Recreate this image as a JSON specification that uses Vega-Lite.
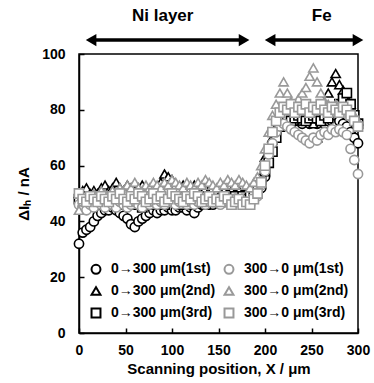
{
  "$schema": "https://vega.github.io/schema/vega-lite/v6.json",
  "width": 279,
  "height": 279,
  "autosize": {"type": "none"},
  "padding": {"left": 79, "top": 54, "right": 16, "bottom": 50},
  "background": "white",
  "config": {
    "font": "Liberation Sans",
    "view": {"stroke": "black", "strokeWidth": 1.5},
    "axis": {
      "grid": false,
      "domainColor": "black",
      "domainWidth": 1.5,
      "tickColor": "black",
      "tickWidth": 1.5,
      "tickSize": -5,
      "labelFlush": false,
      "labelFont": "Liberation Sans",
      "labelFontWeight": "bold",
      "labelFontSize": 14,
      "labelColor": "black",
      "titleFont": "Liberation Sans",
      "titleFontWeight": "bold",
      "titleFontSize": 15,
      "titleColor": "black"
    }
  },
  "layer": [
    {
      "data": {"values": [
        {"s":"b1","x":0,"y":32},{"s":"b1","x":4,"y":36},{"s":"b1","x":8,"y":37},{"s":"b1","x":12,"y":38},{"s":"b1","x":16,"y":40},{"s":"b1","x":20,"y":42},{"s":"b1","x":24,"y":43},{"s":"b1","x":28,"y":44},{"s":"b1","x":32,"y":44},{"s":"b1","x":36,"y":45},{"s":"b1","x":40,"y":44},{"s":"b1","x":44,"y":43},{"s":"b1","x":48,"y":42},{"s":"b1","x":52,"y":41},{"s":"b1","x":56,"y":39},{"s":"b1","x":60,"y":38},{"s":"b1","x":64,"y":40},{"s":"b1","x":68,"y":41},{"s":"b1","x":72,"y":42},{"s":"b1","x":76,"y":43},{"s":"b1","x":80,"y":44},{"s":"b1","x":84,"y":43},{"s":"b1","x":88,"y":44},{"s":"b1","x":92,"y":44},{"s":"b1","x":96,"y":45},{"s":"b1","x":100,"y":44},{"s":"b1","x":104,"y":44},{"s":"b1","x":108,"y":45},{"s":"b1","x":112,"y":45},{"s":"b1","x":116,"y":44},{"s":"b1","x":120,"y":45},{"s":"b1","x":124,"y":43},{"s":"b1","x":128,"y":45},{"s":"b1","x":132,"y":46},{"s":"b1","x":136,"y":46},{"s":"b1","x":140,"y":47},{"s":"b1","x":144,"y":46},{"s":"b1","x":148,"y":47},{"s":"b1","x":152,"y":47},{"s":"b1","x":156,"y":47},{"s":"b1","x":160,"y":48},{"s":"b1","x":164,"y":47},{"s":"b1","x":168,"y":48},{"s":"b1","x":172,"y":48},{"s":"b1","x":176,"y":48},{"s":"b1","x":180,"y":49},{"s":"b1","x":184,"y":49},{"s":"b1","x":188,"y":49},{"s":"b1","x":192,"y":50},{"s":"b1","x":196,"y":52},{"s":"b1","x":200,"y":56},{"s":"b1","x":204,"y":62},{"s":"b1","x":208,"y":68},{"s":"b1","x":212,"y":72},{"s":"b1","x":216,"y":75},{"s":"b1","x":220,"y":76},{"s":"b1","x":224,"y":76},{"s":"b1","x":228,"y":75},{"s":"b1","x":232,"y":76},{"s":"b1","x":236,"y":76},{"s":"b1","x":240,"y":75},{"s":"b1","x":244,"y":76},{"s":"b1","x":248,"y":75},{"s":"b1","x":252,"y":76},{"s":"b1","x":256,"y":75},{"s":"b1","x":260,"y":76},{"s":"b1","x":264,"y":75},{"s":"b1","x":268,"y":76},{"s":"b1","x":272,"y":76},{"s":"b1","x":276,"y":75},{"s":"b1","x":280,"y":76},{"s":"b1","x":284,"y":75},{"s":"b1","x":288,"y":74},{"s":"b1","x":292,"y":72},{"s":"b1","x":296,"y":70},{"s":"b1","x":300,"y":68},
        {"s":"b2","x":0,"y":50},{"s":"b2","x":4,"y":51},{"s":"b2","x":8,"y":52},{"s":"b2","x":12,"y":50},{"s":"b2","x":16,"y":51},{"s":"b2","x":20,"y":50},{"s":"b2","x":24,"y":52},{"s":"b2","x":28,"y":53},{"s":"b2","x":32,"y":51},{"s":"b2","x":36,"y":52},{"s":"b2","x":40,"y":54},{"s":"b2","x":44,"y":52},{"s":"b2","x":48,"y":51},{"s":"b2","x":52,"y":53},{"s":"b2","x":56,"y":52},{"s":"b2","x":60,"y":51},{"s":"b2","x":64,"y":52},{"s":"b2","x":68,"y":53},{"s":"b2","x":72,"y":52},{"s":"b2","x":76,"y":51},{"s":"b2","x":80,"y":53},{"s":"b2","x":84,"y":52},{"s":"b2","x":88,"y":54},{"s":"b2","x":92,"y":57},{"s":"b2","x":96,"y":56},{"s":"b2","x":100,"y":55},{"s":"b2","x":104,"y":53},{"s":"b2","x":108,"y":52},{"s":"b2","x":112,"y":53},{"s":"b2","x":116,"y":51},{"s":"b2","x":120,"y":52},{"s":"b2","x":124,"y":53},{"s":"b2","x":128,"y":52},{"s":"b2","x":132,"y":51},{"s":"b2","x":136,"y":52},{"s":"b2","x":140,"y":51},{"s":"b2","x":144,"y":52},{"s":"b2","x":148,"y":51},{"s":"b2","x":152,"y":50},{"s":"b2","x":156,"y":51},{"s":"b2","x":160,"y":50},{"s":"b2","x":164,"y":51},{"s":"b2","x":168,"y":50},{"s":"b2","x":172,"y":51},{"s":"b2","x":176,"y":50},{"s":"b2","x":180,"y":51},{"s":"b2","x":184,"y":50},{"s":"b2","x":188,"y":51},{"s":"b2","x":192,"y":52},{"s":"b2","x":196,"y":56},{"s":"b2","x":200,"y":63},{"s":"b2","x":204,"y":66},{"s":"b2","x":208,"y":70},{"s":"b2","x":212,"y":74},{"s":"b2","x":216,"y":76},{"s":"b2","x":220,"y":77},{"s":"b2","x":224,"y":76},{"s":"b2","x":228,"y":77},{"s":"b2","x":232,"y":76},{"s":"b2","x":236,"y":77},{"s":"b2","x":240,"y":76},{"s":"b2","x":244,"y":77},{"s":"b2","x":248,"y":76},{"s":"b2","x":252,"y":75},{"s":"b2","x":256,"y":70},{"s":"b2","x":260,"y":77},{"s":"b2","x":264,"y":80},{"s":"b2","x":268,"y":86},{"s":"b2","x":272,"y":90},{"s":"b2","x":276,"y":93},{"s":"b2","x":280,"y":89},{"s":"b2","x":284,"y":87},{"s":"b2","x":288,"y":84},{"s":"b2","x":292,"y":82},{"s":"b2","x":296,"y":78},{"s":"b2","x":300,"y":76},
        {"s":"b3","x":0,"y":48},{"s":"b3","x":4,"y":47},{"s":"b3","x":8,"y":46},{"s":"b3","x":12,"y":47},{"s":"b3","x":16,"y":46},{"s":"b3","x":20,"y":48},{"s":"b3","x":24,"y":47},{"s":"b3","x":28,"y":46},{"s":"b3","x":32,"y":47},{"s":"b3","x":36,"y":48},{"s":"b3","x":40,"y":46},{"s":"b3","x":44,"y":47},{"s":"b3","x":48,"y":46},{"s":"b3","x":52,"y":47},{"s":"b3","x":56,"y":48},{"s":"b3","x":60,"y":46},{"s":"b3","x":64,"y":47},{"s":"b3","x":68,"y":45},{"s":"b3","x":72,"y":46},{"s":"b3","x":76,"y":47},{"s":"b3","x":80,"y":46},{"s":"b3","x":84,"y":47},{"s":"b3","x":88,"y":48},{"s":"b3","x":92,"y":46},{"s":"b3","x":96,"y":47},{"s":"b3","x":100,"y":48},{"s":"b3","x":104,"y":47},{"s":"b3","x":108,"y":46},{"s":"b3","x":112,"y":48},{"s":"b3","x":116,"y":47},{"s":"b3","x":120,"y":46},{"s":"b3","x":124,"y":47},{"s":"b3","x":128,"y":48},{"s":"b3","x":132,"y":47},{"s":"b3","x":136,"y":46},{"s":"b3","x":140,"y":48},{"s":"b3","x":144,"y":47},{"s":"b3","x":148,"y":48},{"s":"b3","x":152,"y":47},{"s":"b3","x":156,"y":49},{"s":"b3","x":160,"y":48},{"s":"b3","x":164,"y":47},{"s":"b3","x":168,"y":49},{"s":"b3","x":172,"y":48},{"s":"b3","x":176,"y":49},{"s":"b3","x":180,"y":48},{"s":"b3","x":184,"y":50},{"s":"b3","x":188,"y":51},{"s":"b3","x":192,"y":53},{"s":"b3","x":196,"y":55},{"s":"b3","x":200,"y":58},{"s":"b3","x":204,"y":61},{"s":"b3","x":208,"y":65},{"s":"b3","x":212,"y":70},{"s":"b3","x":216,"y":74},{"s":"b3","x":220,"y":76},{"s":"b3","x":224,"y":77},{"s":"b3","x":228,"y":76},{"s":"b3","x":232,"y":77},{"s":"b3","x":236,"y":78},{"s":"b3","x":240,"y":77},{"s":"b3","x":244,"y":76},{"s":"b3","x":248,"y":77},{"s":"b3","x":252,"y":78},{"s":"b3","x":256,"y":77},{"s":"b3","x":260,"y":76},{"s":"b3","x":264,"y":78},{"s":"b3","x":268,"y":77},{"s":"b3","x":272,"y":79},{"s":"b3","x":276,"y":80},{"s":"b3","x":280,"y":82},{"s":"b3","x":284,"y":84},{"s":"b3","x":288,"y":86},{"s":"b3","x":292,"y":82},{"s":"b3","x":296,"y":78},{"s":"b3","x":300,"y":75},
        {"s":"g1","x":0,"y":46},{"s":"g1","x":4,"y":45},{"s":"g1","x":8,"y":44},{"s":"g1","x":12,"y":46},{"s":"g1","x":16,"y":45},{"s":"g1","x":20,"y":47},{"s":"g1","x":24,"y":46},{"s":"g1","x":28,"y":45},{"s":"g1","x":32,"y":47},{"s":"g1","x":36,"y":46},{"s":"g1","x":40,"y":45},{"s":"g1","x":44,"y":47},{"s":"g1","x":48,"y":46},{"s":"g1","x":52,"y":45},{"s":"g1","x":56,"y":46},{"s":"g1","x":60,"y":47},{"s":"g1","x":64,"y":46},{"s":"g1","x":68,"y":45},{"s":"g1","x":72,"y":47},{"s":"g1","x":76,"y":46},{"s":"g1","x":80,"y":47},{"s":"g1","x":84,"y":46},{"s":"g1","x":88,"y":47},{"s":"g1","x":92,"y":46},{"s":"g1","x":96,"y":48},{"s":"g1","x":100,"y":47},{"s":"g1","x":104,"y":46},{"s":"g1","x":108,"y":47},{"s":"g1","x":112,"y":48},{"s":"g1","x":116,"y":46},{"s":"g1","x":120,"y":47},{"s":"g1","x":124,"y":46},{"s":"g1","x":128,"y":47},{"s":"g1","x":132,"y":48},{"s":"g1","x":136,"y":46},{"s":"g1","x":140,"y":47},{"s":"g1","x":144,"y":48},{"s":"g1","x":148,"y":47},{"s":"g1","x":152,"y":46},{"s":"g1","x":156,"y":48},{"s":"g1","x":160,"y":47},{"s":"g1","x":164,"y":46},{"s":"g1","x":168,"y":48},{"s":"g1","x":172,"y":47},{"s":"g1","x":176,"y":46},{"s":"g1","x":180,"y":47},{"s":"g1","x":184,"y":46},{"s":"g1","x":188,"y":48},{"s":"g1","x":192,"y":49},{"s":"g1","x":196,"y":53},{"s":"g1","x":200,"y":58},{"s":"g1","x":204,"y":64},{"s":"g1","x":208,"y":68},{"s":"g1","x":212,"y":72},{"s":"g1","x":216,"y":74},{"s":"g1","x":220,"y":75},{"s":"g1","x":224,"y":74},{"s":"g1","x":228,"y":73},{"s":"g1","x":232,"y":72},{"s":"g1","x":236,"y":71},{"s":"g1","x":240,"y":70},{"s":"g1","x":244,"y":69},{"s":"g1","x":248,"y":68},{"s":"g1","x":252,"y":70},{"s":"g1","x":256,"y":69},{"s":"g1","x":260,"y":71},{"s":"g1","x":264,"y":72},{"s":"g1","x":268,"y":71},{"s":"g1","x":272,"y":73},{"s":"g1","x":276,"y":72},{"s":"g1","x":280,"y":73},{"s":"g1","x":284,"y":72},{"s":"g1","x":288,"y":71},{"s":"g1","x":292,"y":66},{"s":"g1","x":296,"y":62},{"s":"g1","x":300,"y":57},
        {"s":"g2","x":0,"y":44},{"s":"g2","x":4,"y":47},{"s":"g2","x":8,"y":49},{"s":"g2","x":12,"y":48},{"s":"g2","x":16,"y":50},{"s":"g2","x":20,"y":49},{"s":"g2","x":24,"y":51},{"s":"g2","x":28,"y":50},{"s":"g2","x":32,"y":49},{"s":"g2","x":36,"y":51},{"s":"g2","x":40,"y":50},{"s":"g2","x":44,"y":52},{"s":"g2","x":48,"y":51},{"s":"g2","x":52,"y":53},{"s":"g2","x":56,"y":52},{"s":"g2","x":60,"y":54},{"s":"g2","x":64,"y":52},{"s":"g2","x":68,"y":51},{"s":"g2","x":72,"y":53},{"s":"g2","x":76,"y":52},{"s":"g2","x":80,"y":54},{"s":"g2","x":84,"y":53},{"s":"g2","x":88,"y":52},{"s":"g2","x":92,"y":54},{"s":"g2","x":96,"y":53},{"s":"g2","x":100,"y":55},{"s":"g2","x":104,"y":54},{"s":"g2","x":108,"y":53},{"s":"g2","x":112,"y":52},{"s":"g2","x":116,"y":54},{"s":"g2","x":120,"y":53},{"s":"g2","x":124,"y":52},{"s":"g2","x":128,"y":54},{"s":"g2","x":132,"y":53},{"s":"g2","x":136,"y":55},{"s":"g2","x":140,"y":54},{"s":"g2","x":144,"y":53},{"s":"g2","x":148,"y":52},{"s":"g2","x":152,"y":54},{"s":"g2","x":156,"y":53},{"s":"g2","x":160,"y":55},{"s":"g2","x":164,"y":54},{"s":"g2","x":168,"y":53},{"s":"g2","x":172,"y":55},{"s":"g2","x":176,"y":54},{"s":"g2","x":180,"y":53},{"s":"g2","x":184,"y":52},{"s":"g2","x":188,"y":54},{"s":"g2","x":192,"y":56},{"s":"g2","x":196,"y":60},{"s":"g2","x":200,"y":66},{"s":"g2","x":204,"y":72},{"s":"g2","x":208,"y":78},{"s":"g2","x":212,"y":82},{"s":"g2","x":216,"y":86},{"s":"g2","x":220,"y":90},{"s":"g2","x":224,"y":86},{"s":"g2","x":228,"y":83},{"s":"g2","x":232,"y":82},{"s":"g2","x":236,"y":84},{"s":"g2","x":240,"y":86},{"s":"g2","x":244,"y":88},{"s":"g2","x":248,"y":92},{"s":"g2","x":252,"y":95},{"s":"g2","x":256,"y":90},{"s":"g2","x":260,"y":86},{"s":"g2","x":264,"y":83},{"s":"g2","x":268,"y":82},{"s":"g2","x":272,"y":81},{"s":"g2","x":276,"y":82},{"s":"g2","x":280,"y":80},{"s":"g2","x":284,"y":81},{"s":"g2","x":288,"y":80},{"s":"g2","x":292,"y":79},{"s":"g2","x":296,"y":78},{"s":"g2","x":300,"y":76},
        {"s":"g3","x":0,"y":50},{"s":"g3","x":4,"y":48},{"s":"g3","x":8,"y":47},{"s":"g3","x":12,"y":49},{"s":"g3","x":16,"y":48},{"s":"g3","x":20,"y":47},{"s":"g3","x":24,"y":49},{"s":"g3","x":28,"y":48},{"s":"g3","x":32,"y":47},{"s":"g3","x":36,"y":49},{"s":"g3","x":40,"y":48},{"s":"g3","x":44,"y":50},{"s":"g3","x":48,"y":48},{"s":"g3","x":52,"y":47},{"s":"g3","x":56,"y":49},{"s":"g3","x":60,"y":48},{"s":"g3","x":64,"y":50},{"s":"g3","x":68,"y":49},{"s":"g3","x":72,"y":47},{"s":"g3","x":76,"y":48},{"s":"g3","x":80,"y":50},{"s":"g3","x":84,"y":48},{"s":"g3","x":88,"y":49},{"s":"g3","x":92,"y":47},{"s":"g3","x":96,"y":48},{"s":"g3","x":100,"y":50},{"s":"g3","x":104,"y":49},{"s":"g3","x":108,"y":48},{"s":"g3","x":112,"y":47},{"s":"g3","x":116,"y":49},{"s":"g3","x":120,"y":48},{"s":"g3","x":124,"y":50},{"s":"g3","x":128,"y":49},{"s":"g3","x":132,"y":47},{"s":"g3","x":136,"y":48},{"s":"g3","x":140,"y":49},{"s":"g3","x":144,"y":47},{"s":"g3","x":148,"y":48},{"s":"g3","x":152,"y":47},{"s":"g3","x":156,"y":49},{"s":"g3","x":160,"y":48},{"s":"g3","x":164,"y":46},{"s":"g3","x":168,"y":47},{"s":"g3","x":172,"y":48},{"s":"g3","x":176,"y":46},{"s":"g3","x":180,"y":47},{"s":"g3","x":184,"y":46},{"s":"g3","x":188,"y":48},{"s":"g3","x":192,"y":50},{"s":"g3","x":196,"y":54},{"s":"g3","x":200,"y":60},{"s":"g3","x":204,"y":66},{"s":"g3","x":208,"y":72},{"s":"g3","x":212,"y":76},{"s":"g3","x":216,"y":79},{"s":"g3","x":220,"y":81},{"s":"g3","x":224,"y":80},{"s":"g3","x":228,"y":82},{"s":"g3","x":232,"y":79},{"s":"g3","x":236,"y":81},{"s":"g3","x":240,"y":80},{"s":"g3","x":244,"y":82},{"s":"g3","x":248,"y":79},{"s":"g3","x":252,"y":81},{"s":"g3","x":256,"y":80},{"s":"g3","x":260,"y":82},{"s":"g3","x":264,"y":80},{"s":"g3","x":268,"y":79},{"s":"g3","x":272,"y":81},{"s":"g3","x":276,"y":80},{"s":"g3","x":280,"y":79},{"s":"g3","x":284,"y":81},{"s":"g3","x":288,"y":80},{"s":"g3","x":292,"y":78},{"s":"g3","x":296,"y":76},{"s":"g3","x":300,"y":74}
      ]},
      "mark": {"type": "point", "fill": "white", "fillOpacity": 1, "size": 85, "strokeWidth": 1.6, "opacity": 1},
      "encoding": {
        "x": {"field": "x", "type": "quantitative", "scale": {"domain": [0, 300], "nice": false},
              "axis": {"values": [0, 50, 100, 150, 200, 250, 300], "labelPadding": 15, "titlePadding": 4, "title": "Scanning position, X / μm"}},
        "y": {"field": "y", "type": "quantitative", "scale": {"domain": [0, 100], "nice": false},
              "axis": {"values": [0, 20, 40, 60, 80, 100], "labelPadding": 19, "titlePadding": 10, "title": "ΔIₕ / nA"}},
        "stroke": {"field": "s", "type": "nominal",
                   "scale": {"domain": ["b1", "b2", "b3", "g1", "g2", "g3"], "range": ["black", "black", "black", "#999999", "#999999", "#999999"]},
                   "legend": {"orient": "none", "legendX": 10, "legendY": 208, "columns": 2, "padding": 0, "rowPadding": 5, "columnPadding": 4, "title": null,
                              "labelFont": "Liberation Sans", "labelFontWeight": "bold", "labelFontSize": 14, "labelColor": "black", "labelOffset": 8,
                              "symbolSize": 80, "symbolStrokeWidth": 2, "symbolFillColor": "white",
                              "labelExpr": "datum.label=='b1'?'0→300 μm(1st)':datum.label=='g1'?'300→0 μm(1st)':datum.label=='b2'?'0→300 μm(2nd)':datum.label=='g2'?'300→0 μm(2nd)':datum.label=='b3'?'0→300 μm(3rd)':'300→0 μm(3rd)'"}},
        "shape": {"field": "s", "type": "nominal",
                  "scale": {"domain": ["b1", "b2", "b3", "g1", "g2", "g3"], "range": ["circle", "triangle-up", "square", "circle", "triangle-up", "square"]}}
      }
    },
    {
      "data": {"values": [{"x": 13, "x2": 177.5, "y": 105}, {"x": 205.5, "x2": 300, "y": 105}]},
      "mark": {"type": "rule", "color": "black", "strokeWidth": 3.5},
      "encoding": {
        "x": {"field": "x", "type": "quantitative", "scale": {"domain": [0, 300], "nice": false}, "title": "Scanning position, X / μm"},
        "x2": {"field": "x2"},
        "y": {"field": "y", "type": "quantitative", "scale": {"domain": [0, 100], "nice": false}, "title": "ΔIₕ / nA"}
      }
    },
    {
      "data": {"values": [{"x": 13, "y": 105}, {"x": 205.5, "y": 105}]},
      "mark": {"type": "point", "shape": "triangle-left", "filled": true, "color": "black", "size": 150, "opacity": 1},
      "encoding": {
        "x": {"field": "x", "type": "quantitative", "scale": {"domain": [0, 300], "nice": false}, "title": "Scanning position, X / μm"},
        "y": {"field": "y", "type": "quantitative", "scale": {"domain": [0, 100], "nice": false}, "title": "ΔIₕ / nA"}
      }
    },
    {
      "data": {"values": [{"x": 177.5, "y": 105}, {"x": 300, "y": 105}]},
      "mark": {"type": "point", "shape": "triangle-right", "filled": true, "color": "black", "size": 150, "opacity": 1},
      "encoding": {
        "x": {"field": "x", "type": "quantitative", "scale": {"domain": [0, 300], "nice": false}, "title": "Scanning position, X / μm"},
        "y": {"field": "y", "type": "quantitative", "scale": {"domain": [0, 100], "nice": false}, "title": "ΔIₕ / nA"}
      }
    },
    {
      "data": {"values": [{"label": "Ni layer", "x": 90, "y": 113.5}, {"label": "Fe", "x": 261, "y": 113.5}]},
      "mark": {"type": "text", "font": "Liberation Sans", "fontWeight": "bold", "fontSize": 17, "color": "black", "baseline": "middle", "align": "center"},
      "encoding": {
        "x": {"field": "x", "type": "quantitative", "scale": {"domain": [0, 300], "nice": false}, "title": "Scanning position, X / μm"},
        "y": {"field": "y", "type": "quantitative", "scale": {"domain": [0, 100], "nice": false}, "title": "ΔIₕ / nA"},
        "text": {"field": "label"}
      }
    }
  ]
}
